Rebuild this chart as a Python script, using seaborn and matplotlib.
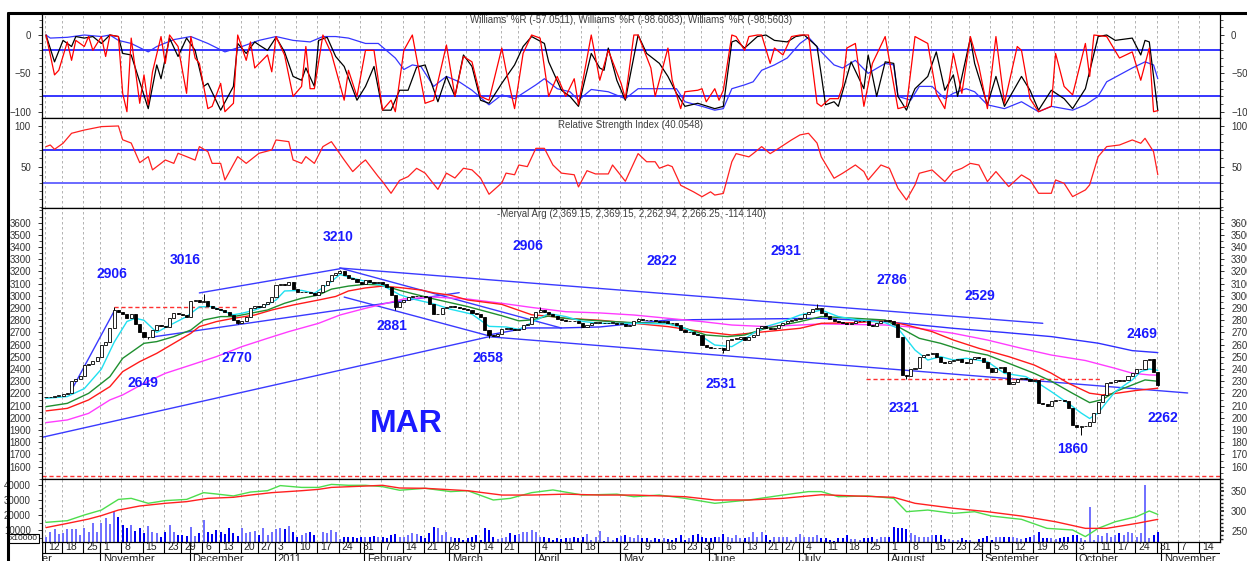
import numpy as np
import pandas as pd
import matplotlib
matplotlib.use("Agg")
import matplotlib.pyplot as plt
from matplotlib.lines import Line2D
from matplotlib.ticker import MultipleLocator, FixedLocator
import seaborn as sns

sns.set_theme(style="white")
plt.rcParams["font.family"] = ["Liberation Sans", "DejaVu Sans"]

# -- Trading calendar (Buenos Aires market days) -----------------
HOLIDAYS = ["2010-10-11", "2010-10-27", "2010-11-22", "2010-12-08", "2010-12-24",
            "2010-12-31", "2011-03-07", "2011-03-08", "2011-03-25", "2011-04-22",
            "2011-05-25", "2011-06-20", "2011-08-22", "2011-10-10"]
NO_DAY_LABEL = ["2011-03-28", "2011-04-25"]

# -- Merval closes, one list per month ---------------------------
close_oct10 = [2170, 2175, 2180, 2180, 2195, 2205, 2300, 2320, 2340, 2430, 2445, 2470, 2500]
close_nov10 = [2600, 2620, 2740, 2880, 2870, 2850, 2820, 2850, 2770, 2700, 2660, 2665, 2720,
               2760, 2750, 2745, 2820, 2860, 2850, 2840, 2830]
close_dec10 = [2960, 2965, 2950, 2960, 2920, 2900, 2890, 2880, 2870, 2840, 2800, 2780, 2790,
               2830, 2900, 2920, 2910, 2930, 2950, 2990]
close_jan11 = [3090, 3100, 3090, 3110, 3060, 3030, 3030, 3035, 3020, 3010, 3030, 3090, 3120,
               3170, 3190, 3200, 3170, 3150, 3140, 3110, 3100]
close_feb11 = [3130, 3110, 3105, 3110, 3100, 3070, 3010, 2910, 2950, 2966, 2990, 2995, 3000,
               2995, 2990, 2930, 2850, 2855, 2900, 2910]
close_mar11 = [2915, 2905, 2900, 2890, 2880, 2860, 2850, 2830, 2720, 2680, 2675, 2690, 2730,
               2740, 2730, 2720, 2730, 2760, 2770, 2830]
close_apr11 = [2870, 2880, 2870, 2855, 2835, 2810, 2800, 2790, 2795, 2790, 2780, 2745, 2760,
               2780, 2780, 2780, 2775, 2780, 2780, 2770]
close_may11 = [2770, 2750, 2760, 2790, 2810, 2805, 2800, 2800, 2790, 2785, 2790, 2780, 2775,
               2760, 2720, 2700, 2700, 2690, 2680, 2600, 2580]
close_jun11 = [2575, 2570, 2570, 2560, 2640, 2650, 2650, 2660, 2640, 2660, 2680, 2740, 2750,
               2740, 2730, 2740, 2760, 2780, 2790, 2800, 2810]
close_jul11 = [2820, 2850, 2870, 2895, 2900, 2860, 2835, 2810, 2795, 2785, 2775, 2770, 2780,
               2790, 2795, 2790, 2760, 2755, 2775, 2790, 2800]
close_aug11 = [2790, 2770, 2660, 2350, 2340, 2400, 2410, 2500, 2515, 2520, 2530, 2500, 2460,
               2450, 2470, 2475, 2480, 2460, 2450, 2480, 2500, 2490]
close_sep11 = [2460, 2410, 2380, 2410, 2420, 2380, 2275, 2290, 2320, 2330, 2320, 2300, 2310,
               2120, 2110, 2100, 2140, 2150, 2145, 2135, 2080, 1940]
close_oct11 = [1928, 1930, 1935, 1969, 2040, 2133, 2188, 2286, 2290, 2310, 2300, 2310, 2340,
               2368, 2398, 2400, 2475, 2483, 2380, 2266]

# wick extremes (trading-day number, price)
day_highs = [(16, 2906), (37, 3016), (69, 3210), (116, 2906), (139, 2822), (181, 2931)]
day_lows = [(24, 2649), (45, 2770), (82, 2881), (104, 2658), (159, 2531), (202, 2321),
            (243, 1860), (261, 2263)]

# -- Volume (thousands), one list per month -----------------------
vol_oct10 = [5.6, 8.9, 10.4, 7.1, 7.8, 10.4, 10.4, 10.4, 6.7, 11.1, 8.9, 14.4, 8.9]
vol_nov10 = [14.9, 17.8, 13.8, 22.9, 18.4, 13.3, 11.6, 13.3, 9.3, 11.1, 7.8, 12.9, 8.9, 8.2,
             5.6, 8.9, 13.3, 8.4, 6.7, 6.7, 6.2]
vol_dec10 = [11.8, 6.0, 7.8, 16.7, 8.9, 7.3, 10.0, 8.9, 7.3, 11.6, 7.8, 6.0, 11.1, 8.2, 8.7,
             9.6, 6.4, 11.6, 6.7, 9.0]
vol_jan11 = [10.4, 11.6, 10.4, 12.7, 8.9, 5.1, 6.4, 8.2, 8.7, 6.4, 2.2, 8.7, 7.8, 10.0, 8.4,
             3.8, 5.1, 5.1, 5.1, 4.4, 5.1]
vol_feb11 = [5.1, 5.1, 6.0, 5.1, 5.1, 4.4, 6.7, 7.3, 5.6, 5.6, 6.7, 7.8, 7.1, 6.0, 4.4, 7.8,
             12.2, 11.1, 6.7, 8.9]
vol_mar11 = [5.6, 4.4, 4.4, 3.3, 4.4, 5.6, 6.7, 3.3, 11.1, 10.0, 5.6, 3.8, 4.4, 5.6, 7.8, 6.4,
             7.1, 8.9, 8.9, 10.0]
vol_apr11 = [8.9, 5.6, 5.1, 4.4, 3.3, 4.4, 3.8, 4.4, 4.9, 5.6, 4.4, 5.6, 7.1, 3.3, 5.6, 9.3,
             2.9, 5.6, 3.3, 4.4]
vol_may11 = [6.0, 6.7, 5.6, 4.4, 6.7, 4.4, 4.4, 3.3, 4.4, 3.8, 4.4, 3.8, 3.3, 4.4, 6.7, 3.3,
             4.4, 6.7, 7.1, 5.6, 4.4]
vol_jun11 = [4.4, 5.1, 5.6, 7.3, 5.6, 4.9, 6.7, 4.9, 4.4, 5.6, 8.9, 5.6, 8.9, 6.7, 3.3, 5.6,
             5.6, 5.6, 5.6, 3.3, 5.6]
vol_jul11 = [7.1, 5.6, 5.6, 5.6, 6.7, 4.9, 4.9, 3.3, 2.9, 4.9, 4.9, 6.7, 3.8, 3.8, 3.3, 4.9,
             4.4, 5.6, 3.8, 5.6, 5.6]
vol_aug11 = [5.6, 12.2, 11.1, 11.1, 10.4, 7.8, 6.7, 5.6, 5.1, 5.6, 6.7, 6.7, 6.7, 3.8, 3.8,
             3.3, 3.3, 4.4, 3.3, 3.3, 2.2, 3.8]
vol_sep11 = [4.9, 6.0, 3.3, 5.6, 5.6, 5.6, 5.6, 5.6, 4.4, 3.8, 4.4, 5.6, 6.7, 8.9, 4.4, 4.4,
             4.4, 3.8, 4.4, 5.6, 5.6, 6.7]
vol_oct11 = [6.7, 4.4, 3.3, 25.6, 3.3, 6.7, 6.0, 7.8, 5.6, 6.7, 7.8, 6.7, 8.9, 8.2, 5.6, 7.8,
             40.0, 4.4, 6.7, 8.9]

# volume averages (trading day, thousands)
vol_avg_fast = [(0, 15.1), (5, 16.2), (9, 20.0), (13, 23.3), (17, 30.4), (20, 31.1), (24, 27.8),
                (28, 29.6), (33, 30.4), (37, 34.9), (40, 34.0), (44, 32.7), (48, 35.3), (52, 36.2),
                (55, 39.6), (60, 38.4), (64, 38.4), (67, 40.4), (71, 39.8), (75, 39.8), (79, 38.9),
                (83, 36.5), (89, 37.8), (95, 35.6), (99, 36.2), (105, 30.0), (109, 31.1),
                (114, 34.9), (119, 36.7), (126, 33.3), (134, 33.9), (138, 32.2), (144, 33.3),
                (150, 31.1), (157, 27.8), (165, 30.0), (173, 33.3), (179, 35.6), (182, 35.6),
                (186, 32.2), (193, 32.7), (199, 31.1), (202, 22.2), (207, 23.3), (213, 21.1),
                (218, 22.2), (222, 19.3), (229, 17.1), (235, 11.1), (241, 10.0), (244, 5.6),
                (247, 11.1), (251, 15.5), (256, 18.9), (259, 22.7), (261, 20.4)]
vol_avg_slow = [(0, 11.6), (5, 14.4), (10, 17.3), (13, 19.6), (17, 23.3), (22, 26.0), (28, 27.8),
                (33, 28.9), (38, 31.1), (44, 31.8), (48, 33.3), (53, 34.9), (60, 36.2), (64, 37.1),
                (67, 38.4), (75, 39.3), (79, 39.8), (83, 38.0), (89, 37.8), (99, 36.2),
                (107, 33.3), (114, 33.3), (122, 33.9), (130, 33.3), (138, 33.3), (150, 32.2),
                (157, 30.0), (165, 30.0), (173, 31.1), (182, 33.5), (190, 32.7), (199, 31.8),
                (204, 27.8), (213, 24.5), (221, 22.2), (229, 19.3), (237, 15.5), (244, 11.1),
                (249, 11.1), (256, 14.4), (261, 17.1)]

# -- Price moving averages (trading day, price) --------------------
ma_cyan = [(0, 2160), (5, 2175), (9, 2240), (13, 2400), (16, 2620), (19, 2790), (21, 2816),
           (23, 2800), (26, 2700), (28, 2740), (33, 2830), (36, 2910), (39, 2912), (42, 2870),
           (44, 2845), (46, 2857), (49, 2884), (51, 2912), (54, 2966), (56, 3040), (60, 3045),
           (63, 3021), (66, 3090), (69, 3175), (72, 3145), (76, 3110), (79, 3085), (83, 3010),
           (86, 2975), (91, 2935), (95, 2890), (100, 2850), (104, 2750), (108, 2745),
           (111, 2725), (114, 2780), (118, 2855), (122, 2830), (126, 2790), (130, 2775),
           (138, 2775), (146, 2770), (150, 2734), (154, 2666), (157, 2597), (161, 2584),
           (163, 2625), (166, 2693), (169, 2748), (173, 2789), (177, 2843), (182, 2884),
           (186, 2830), (191, 2802), (197, 2780), (200, 2734), (204, 2556), (207, 2474),
           (210, 2502), (213, 2474), (216, 2488), (221, 2461), (225, 2365), (230, 2338),
           (233, 2283), (236, 2215), (240, 2119), (243, 2040), (245, 1995), (247, 2040),
           (249, 2130), (251, 2215), (255, 2311), (257, 2379), (259, 2400), (261, 2390)]
ma_green = [(0, 2092), (5, 2119), (10, 2201), (15, 2338), (18, 2488), (23, 2611), (26, 2625),
            (30, 2666), (34, 2720), (37, 2802), (41, 2830), (44, 2830), (48, 2857), (52, 2884),
            (56, 2939), (60, 2980), (64, 3007), (67, 3055), (71, 3080), (75, 3095), (79, 3088),
            (83, 3045), (87, 3010), (91, 2975), (99, 2912), (107, 2837), (111, 2795),
            (114, 2803), (118, 2835), (122, 2815), (130, 2795), (138, 2780), (146, 2775),
            (150, 2734), (155, 2679), (160, 2666), (164, 2679), (169, 2734), (177, 2789),
            (182, 2830), (190, 2816), (197, 2802), (200, 2748), (205, 2652), (210, 2611),
            (215, 2556), (221, 2515), (226, 2447), (232, 2365), (236, 2300), (241, 2201),
            (245, 2125), (248, 2150), (251, 2215), (255, 2270), (258, 2311), (261, 2300)]
ma_red = [(0, 2057), (5, 2078), (10, 2147), (15, 2256), (18, 2379), (22, 2461), (26, 2529),
          (30, 2611), (34, 2693), (36, 2748), (40, 2789), (44, 2816), (49, 2843), (53, 2884),
          (58, 2925), (64, 2966), (68, 2995), (71, 3040), (75, 3065), (79, 3080), (83, 3068),
          (88, 3048), (91, 3025), (95, 3005), (99, 2966), (107, 2930), (114, 2845), (118, 2833),
          (122, 2816), (130, 2800), (138, 2775), (146, 2748), (154, 2707), (161, 2679),
          (169, 2707), (177, 2734), (182, 2775), (190, 2780), (197, 2797), (202, 2761),
          (208, 2707), (213, 2638), (219, 2570), (226, 2502), (232, 2433), (236, 2366),
          (240, 2284), (245, 2202), (248, 2188), (252, 2205), (256, 2225), (261, 2243)]
ma_magenta = [(0, 1961), (5, 1983), (10, 2037), (15, 2147), (18, 2188), (23, 2283), (28, 2365),
              (34, 2433), (40, 2502), (46, 2584), (52, 2652), (57, 2707), (64, 2775), (69, 2843),
              (75, 2898), (80, 2940), (84, 2975), (91, 2990), (99, 2974), (107, 2939),
              (114, 2905), (122, 2870), (130, 2860), (138, 2843), (146, 2816), (154, 2789),
              (161, 2761), (169, 2748), (177, 2761), (182, 2770), (197, 2761), (202, 2748),
              (213, 2693), (221, 2638), (229, 2570), (236, 2515), (244, 2470), (251, 2406),
              (255, 2366), (259, 2352), (261, 2350)]
ma_blue = [(104, 2680), (113, 2737), (121, 2737), (130, 2745), (146, 2802), (165, 2810),
           (182, 2816), (197, 2789), (213, 2734), (225, 2700), (236, 2666), (247, 2612),
           (255, 2551), (261, 2535)]

# trend lines drawn on the chart (start, end) in (trading day, price)
trend_lines = [((69, 3228), (234, 2775)), ((36, 3024), (69, 3222)), ((25, 2663), (97, 3026)),
               ((69, 3228), (121, 2736)), ((70, 2990), (104, 2672)), ((-1, 1840), (104, 2665)),
               ((104, 2665), (268, 2204)), ((6, 2228), (16, 2875))]
support_lines = [((16, 2906), (45, 2906)), ((192.5, 2321), (248, 2321))]

# -- Williams %R (trading day, value) -------------------------------
wr_fast = [(0, 0), (2, -52), (3, -46), (5, -9), (6, -33), (7, -7), (9, -15), (10, -2), (11, -20),
           (13, -2), (14, -28), (15, 0), (17, -2), (18, -76), (19, -100), (20, -4), (22, -89),
           (23, -52), (24, -91), (25, -48), (27, -2), (28, -37), (29, 0), (31, -15), (33, -76),
           (34, -2), (35, -30), (36, -37), (38, -96), (39, -93), (41, -63), (42, -100), (44, -89),
           (45, 0), (47, -33), (48, -9), (49, -43), (52, -26), (53, -48), (54, -2), (56, -26),
           (58, -80), (60, -67), (61, -15), (62, -70), (63, -70), (65, 0), (67, -24), (70, -85),
           (71, -46), (73, -80), (75, -20), (77, -20), (79, -98), (81, -85), (82, -100),
           (84, -20), (86, 0), (87, -30), (89, -89), (91, -85), (94, -13), (96, -80), (98, -28),
           (100, -35), (102, -80), (104, -85), (107, -17), (108, -46), (110, -96), (112, -24),
           (114, 0), (116, -4), (118, -80), (120, -54), (122, -80), (124, -57), (125, -91),
           (128, 0), (130, -59), (132, -20), (135, -63), (136, -83), (138, 0), (139, 0),
           (142, -43), (143, -80), (146, -17), (147, -59), (149, -96), (150, -74), (153, -72),
           (154, -70), (155, -87), (157, -70), (158, -85), (159, -72), (161, 0), (162, -2),
           (164, -20), (165, -2), (167, 0), (168, 0), (170, -37), (171, -17), (173, -26),
           (175, -2), (177, 0), (179, 0), (181, -89), (182, -93), (184, -83), (186, -83),
           (187, -67), (188, -17), (190, -11), (192, -93), (194, -37), (197, -2), (200, -96),
           (202, -93), (204, -2), (207, -11), (209, -76), (211, -96), (213, -24), (215, -76),
           (217, -2), (219, -41), (221, -96), (223, -2), (225, -89), (228, -15), (229, -20),
           (231, -83), (233, -100), (236, -93), (237, -24), (239, -67), (241, -78), (244, -11),
           (245, -54), (246, 0), (249, -2), (252, -30), (255, -22), (257, -59), (259, -17),
           (260, -100), (261, -98.6)]
wr_mid = [(0, 0), (2, -35), (4, -7), (6, -15), (7, -2), (9, -4), (11, -2), (13, -11), (15, 0),
          (17, -2), (18, -24), (20, -26), (22, -61), (24, -96), (26, -39), (27, -57), (29, -4),
          (31, -28), (33, -4), (35, -20), (37, -67), (38, -63), (41, -98), (44, -67), (45, -11),
          (47, -24), (49, -9), (50, -13), (52, -20), (54, -3), (56, -22), (58, -54), (60, -59),
          (61, -43), (63, -67), (64, -7), (66, -3), (68, -28), (70, -41), (73, -85), (75, -67),
          (77, -41), (79, -98), (81, -98), (83, -72), (85, -72), (87, -42), (89, -39), (92, -87),
          (94, -54), (96, -80), (98, -26), (100, -41), (102, -85), (104, -89), (107, -63),
          (110, -39), (112, -15), (114, -2), (117, -11), (118, -35), (121, -72), (123, -80),
          (125, -93), (128, -24), (130, -43), (131, -46), (132, -17), (134, -59), (136, -85),
          (139, 0), (141, -24), (144, -37), (146, -54), (148, -76), (150, -93), (153, -89),
          (157, -96), (159, -93), (161, -9), (162, -7), (164, -17), (167, -2), (169, 0),
          (171, -7), (174, -9), (176, -2), (178, 0), (181, -15), (182, -52), (183, -91),
          (185, -87), (186, -93), (189, -35), (192, -70), (193, -26), (195, -80), (197, -35),
          (199, -37), (200, -80), (202, -98), (203, -83), (204, -70), (207, -54), (209, -22),
          (211, -72), (213, -52), (214, -80), (217, -4), (218, -37), (221, -91), (223, -54),
          (225, -93), (229, -54), (231, -72), (233, -98), (236, -72), (239, -83), (241, -96),
          (244, -70), (247, -2), (249, 0), (251, -7), (255, -4), (257, -26), (258, -7),
          (259, -9), (261, -98.6)]
wr_slow = [(0, 0), (1, -4), (5, -3), (9, 0), (13, -2), (15, 0), (17, -7), (20, -11), (24, -22),
           (26, -15), (30, -6), (34, -2), (38, -11), (42, -22), (46, -15), (50, -7), (54, -2),
           (58, -7), (62, -9), (65, -2), (68, -2), (71, -4), (75, -11), (78, -11), (82, -30),
           (84, -45), (86, -39), (88, -41), (91, -67), (94, -54), (97, -61), (100, -72),
           (104, -91), (107, -78), (110, -83), (115, -65), (117, -57), (120, -70), (123, -74),
           (125, -85), (128, -71), (132, -74), (136, -83), (139, -70), (144, -70), (148, -70),
           (150, -87), (154, -93), (157, -98), (159, -96), (161, -70), (164, -65), (166, -61),
           (168, -46), (171, -39), (174, -30), (177, -11), (179, -3), (180, -9), (182, -22),
           (185, -39), (187, -43), (190, -33), (193, -50), (197, -37), (199, -39), (200, -80),
           (203, -85), (205, -67), (208, -67), (211, -83), (213, -76), (216, -70), (218, -74),
           (221, -91), (225, -96), (229, -87), (233, -100), (236, -93), (241, -98), (244, -91),
           (247, -80), (249, -61), (252, -52), (255, -43), (258, -35), (260, -39), (261, -57)]

# -- RSI (trading day, value) ---------------------------------------
rsi = [(0, 74.6), (1, 76.6), (2, 71.3), (4, 78.7), (6, 91), (9, 95), (13, 99.2), (17, 100),
       (18, 83), (20, 79), (22, 54.9), (24, 62.3), (25, 46), (27, 54), (28, 58.2), (30, 54),
       (31, 66.4), (33, 62.3), (35, 58), (36, 74.6), (38, 68.4), (39, 54), (41, 54), (42, 33.6),
       (45, 62.3), (47, 54), (49, 62.3), (50, 66.4), (53, 70.5), (54, 82.8), (57, 80.7),
       (58, 58.2), (60, 54), (61, 62.3), (63, 54), (65, 74.6), (67, 80.7), (70, 58.2),
       (72, 43.9), (74, 54), (75, 58.2), (78, 37.7), (79, 31.6), (81, 17.2), (83, 33),
       (85, 37.7), (87, 47.9), (89, 42), (92, 22), (94, 42), (96, 36), (98, 48), (100, 46),
       (102, 36), (104, 16), (107, 30), (108, 42), (110, 40), (111, 52), (113, 50), (115, 72.5),
       (117, 72.5), (119, 52), (121, 42), (124, 40), (125, 25), (127, 45), (129, 41), (132, 41),
       (133, 52), (136, 32), (139, 66), (141, 56), (143, 56), (144, 48), (146, 52), (147, 50),
       (149, 27), (152, 19), (154, 13), (156, 19), (157, 15), (159, 17), (161, 56), (162, 66),
       (165, 62), (166, 66), (168, 74.6), (170, 66), (172, 72.5), (175, 82.8), (177, 89),
       (179, 91), (181, 79), (182, 62), (185, 35.7), (187, 41.8), (190, 52), (192, 43.9),
       (193, 33.6), (196, 52), (198, 47.9), (200, 23.4), (202, 9), (204, 27.5), (205, 41.8),
       (208, 45.9), (211, 31.6), (213, 43.9), (215, 47.9), (217, 54), (219, 52), (221, 31.6),
       (223, 43.9), (226, 25.4), (229, 39.8), (231, 33.6), (233, 17.2), (236, 17.2),
       (237, 33.6), (239, 29.5), (241, 13.1), (244, 21.3), (245, 27.5), (247, 62.3),
       (249, 74.6), (252, 76.6), (255, 82.8), (257, 78.7), (258, 84.8), (260, 68.4),
       (261, 40.05)]

MONTH_NAMES = ["October", "November", "December", "2011", "February", "March", "April", "May",
               "June", "July", "August", "September", "October", "November"]

# -- Assemble series ------------------------------------------------
close = np.array(close_oct10 + close_nov10 + close_dec10 + close_jan11 + close_feb11 +
                 close_mar11 + close_apr11 + close_may11 + close_jun11 + close_jul11 +
                 close_aug11 + close_sep11 + close_oct11, dtype=float)
volume = 1000 * np.array(vol_oct10 + vol_nov10 + vol_dec10 + vol_jan11 + vol_feb11 + vol_mar11 +
                         vol_apr11 + vol_may11 + vol_jun11 + vol_jul11 + vol_aug11 + vol_sep11 +
                         vol_oct11, dtype=float)
n = len(close)
x = np.arange(n)
opn = np.r_[close[0], close[:-1]]
body_lo = np.minimum(opn, close)
hi = np.maximum(opn, close)
lo = body_lo.copy()
for d, v in day_highs:
    hi[d] = max(hi[d], v)
for d, v in day_lows:
    lo[d] = min(lo[d], v)

cal = pd.bdate_range("2010-10-01", "2011-11-30")
cal = cal[~cal.isin(pd.to_datetime(HOLIDAYS))]
start = cal.get_loc(pd.Timestamp("2010-10-12"))
cal_pos = np.arange(len(cal)) - start
wk = cal.to_period("W")
mo = cal.to_period("M")
wk_first = np.r_[True, wk[1:] != wk[:-1]]
mo_first = np.r_[True, mo[1:] != mo[:-1]]

XMIN, XMAX = -0.94, 275.6
week_pos = cal_pos[wk_first]
week_dates = cal[wk_first]
keep = (week_pos >= 0) & (week_pos < XMAX)
week_pos, week_dates = week_pos[keep], week_dates[keep]
month_pos = cal_pos[mo_first]
month_pos = month_pos[month_pos < XMAX]

# -- Figure layout ----------------------------------------------------
W, H = 1247, 561
fig = plt.figure(figsize=(W / 100, H / 100), dpi=100)
fig.patch.set_facecolor("white")
L, R = 42 / W, 1220 / W


def panel(top, bottom):
    return fig.add_axes([L, 1 - bottom / H, R - L, (bottom - top) / H])


ax_wr = panel(13, 118)
ax_rsi = panel(118, 208)
ax_px = panel(208, 479)
ax_vol = panel(479, 542)
axes = [ax_wr, ax_rsi, ax_px, ax_vol]

TXT = "#333333"
BLUE = "#1a1aff"
for ax in axes:
    ax.set_xlim(XMIN, XMAX)
    ax.set_facecolor("white")
    ax.set_xticks([])
    for s in ax.spines.values():
        s.set_color("black")
        s.set_linewidth(0.9)
    ax.tick_params(axis="y", which="both", direction="out", left=True, right=True,
                   labelleft=True, labelright=True, labelsize=7, labelcolor=TXT,
                   color="#333333", pad=5)
    ax.tick_params(axis="y", which="major", length=3, width=0.7)
    ax.tick_params(axis="y", which="minor", length=2, width=0.6)
    for p in week_pos:
        ax.axvline(p - 0.3, color="#a6a6a6", lw=0.6, ls=(0, (3, 3)), zorder=0)

# -- Williams %R -------------------------------------------------------
ax_wr.set_ylim(-108.2, 28.7)
ax_wr.yaxis.set_major_locator(FixedLocator([0, -50, -100]))
ax_wr.yaxis.set_minor_locator(MultipleLocator(10))
ax_wr.axhline(-20, color="#0000ff", lw=1.1, zorder=1)
ax_wr.axhline(-80, color="#0000ff", lw=1.1, zorder=1)
for series, col, lw in [(wr_slow, "#3535ff", 0.9), (wr_mid, "black", 0.9), (wr_fast, "#ff0000", 0.9)]:
    d, v = zip(*series)
    sns.lineplot(x=list(d), y=list(v), ax=ax_wr, color=col, linewidth=lw,
                 estimator=None, sort=False, legend=False)
ax_wr.spines["top"].set_linewidth(2.2)
ax_wr.text(0.5, 1 - 7 / 105, "Williams' %R (-57.0511), Williams' %R (-98.6083), Williams' %R (-98.5603)",
           transform=ax_wr.transAxes, ha="center", va="center", fontsize=7, color="#404040")

# -- RSI -----------------------------------------------------------------
ax_rsi.set_ylim(-0.9, 109.8)
ax_rsi.yaxis.set_major_locator(FixedLocator([50, 100]))
ax_rsi.yaxis.set_minor_locator(MultipleLocator(10))
ax_rsi.axhline(70, color="#0000ff", lw=1.1, zorder=1)
ax_rsi.axhline(30, color="#6a6aff", lw=1.4, zorder=1)
d, v = zip(*rsi)
sns.lineplot(x=list(d), y=list(v), ax=ax_rsi, color="#ff2020", linewidth=0.9,
             estimator=None, sort=False, legend=False)
ax_rsi.text(0.5, 1 - 7 / 90, "Relative Strength Index (40.0548)", transform=ax_rsi.transAxes,
            ha="center", va="center", fontsize=7, color="#404040")

# -- Price panel ---------------------------------------------------------
ax_px.set_ylim(1499, 3720)
ax_px.set_yticks(np.arange(1600, 3601, 100))
ax_px.yaxis.set_minor_locator(MultipleLocator(50))
ax_px.axhline(1525, color="#ff3030", lw=1.0, ls=(0, (3, 2)), zorder=1)

for (x0, y0), (x1, y1) in trend_lines:
    ax_px.plot([x0, x1], [y0, y1], color="#3a3aff", lw=1.0, zorder=2)
for (x0, y0), (x1, y1) in support_lines:
    ax_px.plot([x0, x1], [y0, y1], color="#ff3030", lw=1.0, ls=(0, (3, 2)), zorder=2)

for series, col in [(ma_blue, "#2f2fff"), (ma_magenta, "#ff3cff"), (ma_red, "#ff1a1a"),
                    (ma_green, "#1f8f2f"), (ma_cyan, "#20e0f0")]:
    d, v = zip(*series)
    sns.lineplot(x=list(d), y=list(v), ax=ax_px, color=col, linewidth=1.0,
                 estimator=None, sort=False, legend=False, zorder=3)

up = close >= opn
ax_px.vlines(x, lo, hi, color="black", lw=0.7, zorder=4)
body = np.maximum(np.abs(close - opn), 4)
ax_px.bar(x[up], body[up], bottom=body_lo[up], width=0.72,
          color="white", edgecolor="black", linewidth=0.6, zorder=5)
ax_px.bar(x[~up], body[~up], bottom=body_lo[~up], width=0.72,
          color="black", edgecolor="black", linewidth=0.6, zorder=5)

ax_px.text(0.5, 1 - 6 / 271, "-Merval Arg (2,369.15, 2,369.15, 2,262.94, 2,266.25, -114.140)",
           transform=ax_px.transAxes, ha="center", va="center", fontsize=7, color="#404040")

labels = [("2906", 15.5, 3180), ("3016", 32.6, 3294), ("3210", 68.5, 3483), ("2881", 81.2, 2753),
          ("2770", 44.8, 2491), ("2649", 22.8, 2286), ("2906", 113.1, 3409), ("2822", 144.6, 3286),
          ("2658", 103.8, 2491), ("2931", 173.7, 3368), ("2531", 158.5, 2278), ("2786", 198.6, 3130),
          ("2529", 219.2, 3000), ("2321", 201.4, 2081), ("1860", 241.1, 1745), ("2469", 257.3, 2688),
          ("2262", 262.2, 2000)]
for t, lx, ly in labels:
    ax_px.text(lx, ly, t, ha="center", va="center", fontsize=10, fontweight="bold",
               color=BLUE, zorder=6)
ax_px.text(84.7, 1950, "MAR", ha="center", va="center", fontsize=23, fontweight="bold",
           color=BLUE, zorder=6)

# -- Volume panel -----------------------------------------------------
ax_vol.set_ylim(2000, 44000)
ax_vol.yaxis.set_major_locator(FixedLocator([10000, 20000, 30000, 40000]))
ax_vol.yaxis.set_minor_locator(MultipleLocator(5000))
ax_vol.tick_params(axis="y", labelright=False)
bar_cols = np.where(up, "#7272ff", "#0000f0")
ax_vol.vlines(x, 0, volume, colors=bar_cols, lw=1.4, zorder=2, antialiased=False)
for series, col in [(vol_avg_fast, "#4ddd4d"), (vol_avg_slow, "#ff2020")]:
    d, v = zip(*series)
    sns.lineplot(x=list(d), y=[1000 * t for t in v], ax=ax_vol, color=col, linewidth=1.0,
                 estimator=None, sort=False, legend=False, zorder=3)
ax_v2 = ax_vol.twinx()
ax_v2.set_ylim(222.5, 380)
ax_v2.set_yticks([250, 300, 350])
ax_v2.yaxis.set_minor_locator(MultipleLocator(10))
ax_v2.tick_params(axis="y", which="both", direction="out", labelsize=7, labelcolor=TXT, pad=5)
ax_v2.tick_params(axis="y", which="major", length=3)
ax_v2.tick_params(axis="y", which="minor", length=2)
ax_v2.set_xticks([])
for s in ax_v2.spines.values():
    s.set_visible(False)
fig.text(10 / W, 1 - 538.5 / H, "x10000", fontsize=6, color="#222222", va="center", ha="left",
         bbox=dict(boxstyle="square,pad=0.1", fc="white", ec="black", lw=0.8))

# -- Date axis -----------------------------------------------------------
axd = fig.add_axes([L, 0, R - L, 19 / H])
axd.set_xlim(XMIN, XMAX)
axd.set_ylim(0, 1)
axd.axis("off")
axd.axhline(1 - 11 / 19, color="black", lw=0.8)
axd.axvline(XMIN + 0.05, color="black", lw=1.0)
skip = set(pd.to_datetime(NO_DAY_LABEL))
for p, dt in zip(week_pos, week_dates):
    axd.plot([p - 0.3, p - 0.3], [1 - 11 / 19, 1], color="black", lw=0.8)
    if dt not in skip:
        axd.text(p + 0.4, 1 - 5.5 / 19, str(dt.day), fontsize=7.5, color="#222222",
                 ha="left", va="center", clip_on=True)
for p, name in zip(month_pos, MONTH_NAMES):
    if p < 0:
        # month began before the first bar: only its tail shows at the left edge
        axd.text(XMIN + 2.4, 1 - 11.5 / 19, name, fontsize=8, color="#222222",
                 ha="right", va="top", clip_on=True)
        continue
    axd.plot([p - 0.3, p - 0.3], [0, 1], color="black", lw=0.8, clip_on=True)
    axd.text(p + 0.4, 1 - 11.5 / 19, name, fontsize=8, color="#222222",
             ha="left", va="top", clip_on=True)

# -- Outer frame --------------------------------------------------------
fig.add_artist(Line2D([8 / W, 1], [1 - 12.5 / H] * 2, transform=fig.transFigure,
                      color="black", lw=2.2))
fig.add_artist(Line2D([8 / W, 8 / W], [0, 1 - 12.5 / H], transform=fig.transFigure,
                      color="black", lw=2.2))

fig.savefig("out.png", dpi=100, facecolor="white")
